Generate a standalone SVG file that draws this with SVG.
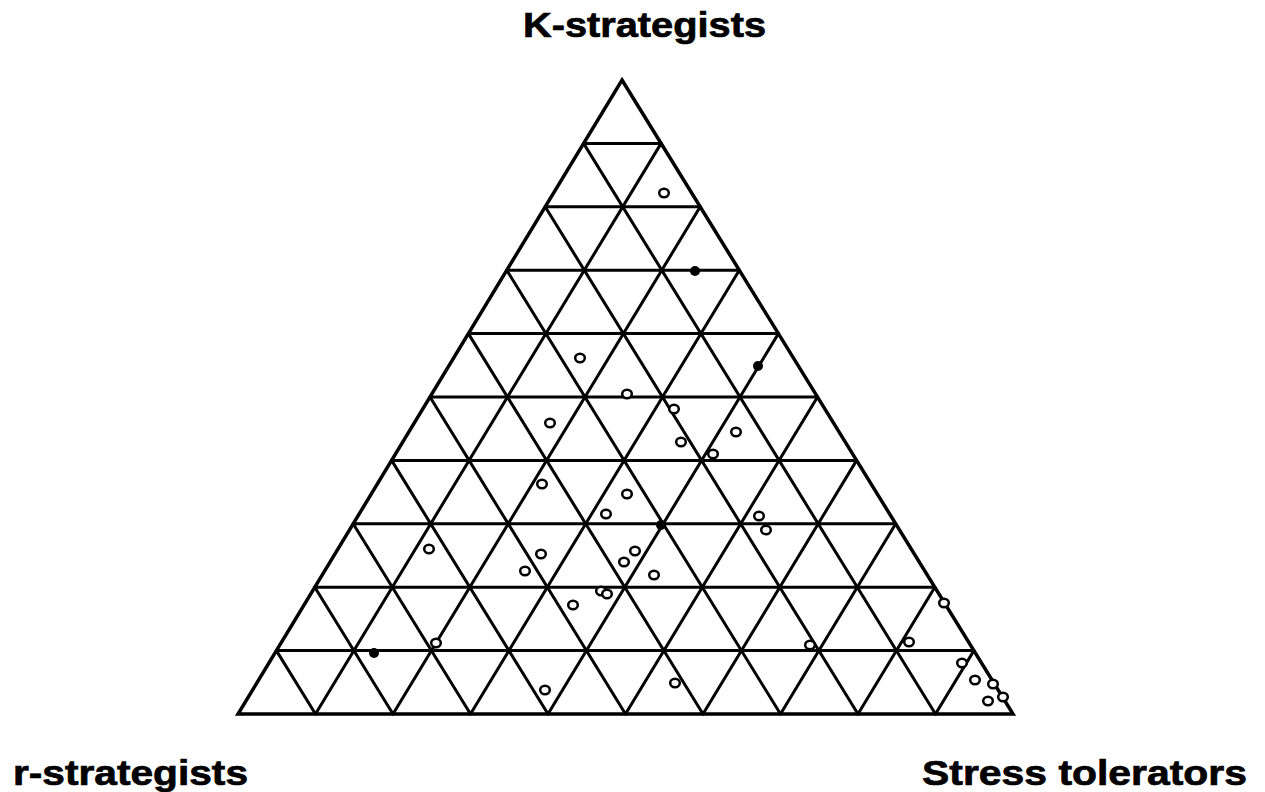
<svg xmlns="http://www.w3.org/2000/svg" xmlns:xlink="http://www.w3.org/1999/xlink" width="1265" height="792" viewBox="0 0 1265 792">
<style>
.lbl{font-family:"Liberation Sans",Arial,sans-serif;font-weight:bold;font-size:35px;fill:#000;stroke:#000;stroke-width:0.7}
.grid{stroke:#000;stroke-width:3;fill:none;stroke-linecap:round}
.edge{stroke:#000;stroke-width:3.5;fill:none;stroke-linejoin:miter}
.open{fill:#fff;stroke:#000;stroke-width:2.5}
.full{fill:#000}
</style>
<defs>
<ellipse id="o" class="open" cx="0" cy="0" rx="4.8" ry="4.2"/>
<circle id="f" class="full" cx="0" cy="0" r="5"/>
</defs>
<rect width="1265" height="792" fill="#fff"/>
<g id="labels">
<text class="lbl" x="523" y="37" textLength="243" lengthAdjust="spacingAndGlyphs">K-strategists</text>
<text class="lbl" x="13" y="785" textLength="235" lengthAdjust="spacingAndGlyphs">r-strategists</text>
<text class="lbl" x="922" y="785" textLength="325" lengthAdjust="spacingAndGlyphs">Stress tolerators</text>
</g>
<g id="grid" class="grid">
<path d="M583.6 143.4H661.1M545.2 206.8H700.2M506.8 270.2H739.3M468.4 333.6H778.4M430 397H817.5M391.6 460.4H856.6M353.2 523.8H895.7M314.8 587.2H934.8M276.4 650.6H973.9"/>
<path d="M315.5 714L661.1 143.4M393 714L700.2 206.8M470.5 714L739.3 270.2M548 714L778.4 333.6M625.5 714L817.5 397M703 714L856.6 460.4M780.5 714L895.7 523.8M858 714L934.8 587.2M935.5 714L973.9 650.6"/>
<path d="M315.5 714L276.4 650.6M393 714L314.8 587.2M470.5 714L353.2 523.8M548 714L391.6 460.4M625.5 714L430 397M703 714L468.4 333.6M780.5 714L506.8 270.2M858 714L545.2 206.8M935.5 714L583.6 143.4"/>
</g>
<path id="frame" class="edge" d="M622 80L1013 714H238Z"/>
<g id="points">
<use xlink:href="#o" x="664" y="193"/>
<use xlink:href="#o" x="580" y="358"/>
<use xlink:href="#o" x="627" y="394"/>
<use xlink:href="#o" x="674" y="409"/>
<use xlink:href="#o" x="550" y="423"/>
<use xlink:href="#o" x="736" y="432"/>
<use xlink:href="#o" x="681" y="442"/>
<use xlink:href="#o" x="713" y="454"/>
<use xlink:href="#o" x="542" y="484"/>
<use xlink:href="#o" x="627" y="494"/>
<use xlink:href="#o" x="606" y="514"/>
<use xlink:href="#o" x="759" y="516"/>
<use xlink:href="#o" x="766" y="530"/>
<use xlink:href="#o" x="429" y="549"/>
<use xlink:href="#o" x="541" y="554"/>
<use xlink:href="#o" x="635" y="551"/>
<use xlink:href="#o" x="624" y="562"/>
<use xlink:href="#o" x="525" y="571"/>
<use xlink:href="#o" x="654" y="575"/>
<use xlink:href="#o" x="601" y="591"/>
<use xlink:href="#o" x="607" y="594"/>
<use xlink:href="#o" x="573" y="605"/>
<use xlink:href="#o" x="436" y="643"/>
<use xlink:href="#o" x="810" y="645"/>
<use xlink:href="#o" x="909" y="642"/>
<use xlink:href="#o" x="944" y="603"/>
<use xlink:href="#o" x="962" y="663"/>
<use xlink:href="#o" x="975" y="680"/>
<use xlink:href="#o" x="993" y="684"/>
<use xlink:href="#o" x="1003" y="697"/>
<use xlink:href="#o" x="988" y="701"/>
<use xlink:href="#o" x="545" y="690"/>
<use xlink:href="#o" x="675" y="683"/>
<use xlink:href="#f" x="695" y="271"/>
<use xlink:href="#f" x="758" y="366"/>
<use xlink:href="#f" x="661" y="525"/>
<use xlink:href="#f" x="374" y="653"/>
</g>
</svg>
